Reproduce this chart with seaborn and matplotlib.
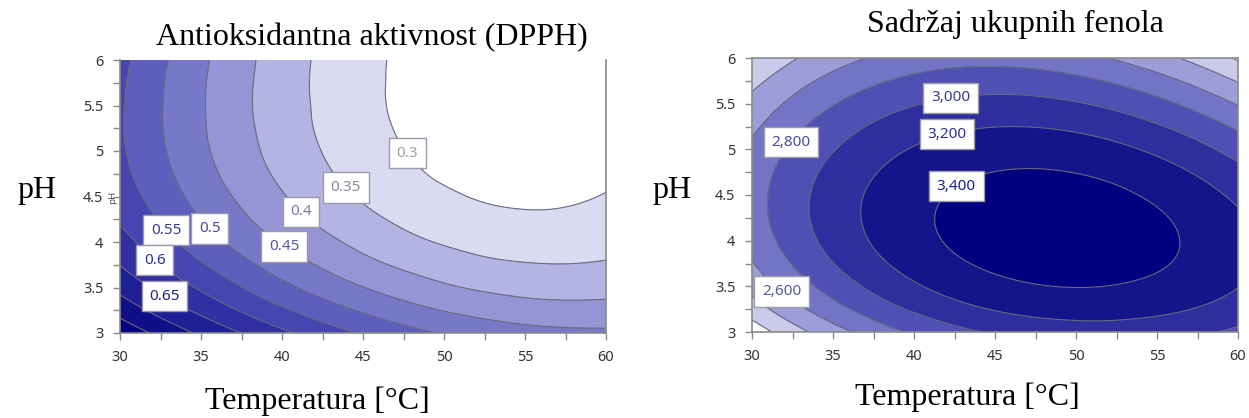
import numpy as np
import matplotlib
matplotlib.use('Agg')
import matplotlib.pyplot as plt
import matplotlib.tri as mtri
from matplotlib.ticker import MultipleLocator
import seaborn as sns

# Osi: temperatura [°C] i pH
temperature = [30, 32.5, 35, 37.5, 40, 42.5, 45, 47.5, 50, 52.5, 55, 57.5, 60]
ph = [3, 3.25, 3.5, 3.75, 4, 4.25, 4.5, 4.75, 5, 5.25, 5.5, 5.75, 6]

# Antioksidantna aktivnost (DPPH) - redovi: pH, kolone: temperatura
dpph = [
    [0.786, 0.737, 0.691, 0.649, 0.610, 0.575, 0.545, 0.518, 0.496, 0.479, 0.467, 0.461, 0.459],
    [0.732, 0.683, 0.638, 0.596, 0.558, 0.524, 0.494, 0.469, 0.448, 0.433, 0.422, 0.417, 0.418],
    [0.686, 0.638, 0.593, 0.551, 0.513, 0.480, 0.451, 0.427, 0.407, 0.393, 0.384, 0.381, 0.383],
    [0.649, 0.600, 0.555, 0.514, 0.477, 0.444, 0.415, 0.392, 0.374, 0.360, 0.353, 0.351, 0.355],
    [0.619, 0.570, 0.524, 0.483, 0.446, 0.414, 0.386, 0.363, 0.346, 0.334, 0.327, 0.327, 0.332],
    [0.595, 0.546, 0.500, 0.459, 0.422, 0.390, 0.363, 0.341, 0.324, 0.313, 0.307, 0.308, 0.315],
    [0.577, 0.528, 0.482, 0.441, 0.404, 0.372, 0.345, 0.323, 0.307, 0.296, 0.292, 0.294, 0.302],
    [0.565, 0.515, 0.469, 0.427, 0.390, 0.358, 0.332, 0.310, 0.294, 0.285, 0.281, 0.283, 0.293],
    [0.558, 0.507, 0.460, 0.418, 0.381, 0.349, 0.322, 0.301, 0.286, 0.276, 0.273, 0.277, 0.287],
    [0.555, 0.503, 0.456, 0.413, 0.376, 0.343, 0.316, 0.295, 0.280, 0.271, 0.269, 0.273, 0.284],
    [0.556, 0.503, 0.455, 0.411, 0.373, 0.341, 0.313, 0.292, 0.277, 0.268, 0.266, 0.271, 0.283],
    [0.559, 0.505, 0.456, 0.412, 0.373, 0.340, 0.313, 0.291, 0.276, 0.268, 0.266, 0.271, 0.283],
    [0.565, 0.510, 0.460, 0.415, 0.375, 0.341, 0.313, 0.292, 0.276, 0.268, 0.266, 0.271, 0.284],
]

# Sadržaj ukupnih fenola - redovi: pH, kolone: temperatura
fenoli = [
    [2081, 2315, 2517, 2688, 2830, 2942, 3025, 3080, 3108, 3109, 3084, 3035, 2961],
    [2299, 2528, 2725, 2891, 3027, 3133, 3211, 3260, 3281, 3276, 3245, 3189, 3108],
    [2467, 2691, 2883, 3044, 3175, 3275, 3347, 3390, 3405, 3393, 3356, 3293, 3205],
    [2590, 2809, 2996, 3151, 3276, 3371, 3436, 3473, 3482, 3464, 3420, 3350, 3255],
    [2670, 2884, 3066, 3216, 3335, 3424, 3483, 3514, 3516, 3492, 3440, 3363, 3261],
    [2712, 2920, 3097, 3241, 3354, 3437, 3491, 3515, 3511, 3480, 3422, 3337, 3228],
    [2718, 2921, 3092, 3231, 3338, 3415, 3462, 3480, 3470, 3432, 3366, 3275, 3158],
    [2692, 2890, 3055, 3188, 3290, 3361, 3402, 3413, 3396, 3351, 3279, 3180, 3056],
    [2638, 2831, 2990, 3118, 3213, 3278, 3312, 3317, 3293, 3241, 3162, 3056, 2924],
    [2559, 2746, 2900, 3022, 3111, 3169, 3197, 3195, 3165, 3106, 3019, 2906, 2766],
    [2459, 2641, 2789, 2904, 2987, 3039, 3061, 3052, 3014, 2948, 2854, 2733, 2586],
    [2341, 2517, 2659, 2768, 2845, 2891, 2905, 2890, 2845, 2772, 2671, 2542, 2387],
    [2209, 2379, 2515, 2618, 2689, 2728, 2736, 2713, 2661, 2581, 2472, 2336, 2173],
]

# Nivoi kontura i boje
dpph_levels = [0.3, 0.35, 0.4, 0.45, 0.5, 0.55, 0.6, 0.65, 0.7, 0.75]
dpph_colors = ['#ffffff', '#dadaf1', '#b4b4e2', '#9595d5', '#7878c8', '#5e5ebd',
               '#4646b0', '#3030a2', '#1e1e95', '#0f0f89', '#040481']
fen_levels = [2200, 2400, 2600, 2800, 3000, 3200, 3400]
fen_colors = ['#ffffff', '#cacaea', '#9d9dd9', '#7474c6', '#5050b4', '#2e2e9f', '#15158b', '#000080']

# Oznake kontura (boja teksta po nivou)
dpph_lab = {0.3: '#a0a0a0', 0.35: '#8a8aa0', 0.4: '#7a7aa8', 0.45: '#5a5a9a',
            0.5: '#4a4a98', 0.55: '#3a3a90', 0.6: '#30308c', 0.65: '#202088'}
fen_lab = {2600: '#5a5a9a', 2800: '#4a4a98', 3000: '#3a3a90', 3200: '#30308c', 3400: '#202088'}

sns.set_theme(style='white')
plt.rcParams['font.family'] = ['Noto Sans', 'DejaVu Sans']

TT, PP = np.meshgrid(temperature, ph)

fig = plt.figure(figsize=(12.49, 4.18), dpi=100)
W, H = 1249, 418
ax1 = fig.add_axes([120 / W, 1 - 333 / H, 486 / W, 273 / H])
ax2 = fig.add_axes([752 / W, 1 - 332 / H, 486 / W, 274 / H])


def draw(ax, Z, levels, colors, lab_pos, fmt, lab_colors):
    Z = np.asarray(Z, dtype=float).ravel()
    tri = mtri.Triangulation(TT.ravel(), PP.ravel())
    interp = mtri.CubicTriInterpolator(tri, Z)
    tri_r, z_r = mtri.UniformTriRefiner(tri).refine_field(Z, triinterpolator=interp, subdiv=3)
    lo, hi = min(z_r.min(), levels[0]) - 1, max(z_r.max(), levels[-1]) + 1
    ax.tricontourf(tri_r, z_r, levels=[lo] + levels + [hi], colors=colors)
    ax.tricontour(tri_r, z_r, levels=levels, colors='#6a6a80', linewidths=0.8)
    lab_lines = ax.tricontour(tri_r, z_r, levels=sorted(lab_colors), colors='none', linewidths=0)
    texts = ax.clabel(lab_lines, manual=lab_pos, fmt=fmt, inline=False, fontsize=11)
    for t in texts:
        v = float(t.get_text().replace(',', ''))
        t.set_rotation(0)
        t.set_color(lab_colors[min(lab_colors, key=lambda k: abs(k - v))])
        t.set_bbox(dict(boxstyle='square,pad=0.5', facecolor='white', edgecolor='#9a9aaa', linewidth=1))
        t.set_zorder(5)
    ax.set_xlim(30, 60)
    ax.set_ylim(3, 6)
    ax.xaxis.set_major_locator(MultipleLocator(5))
    ax.xaxis.set_minor_locator(MultipleLocator(2.5))
    ax.yaxis.set_major_locator(MultipleLocator(0.5))
    ax.yaxis.set_minor_locator(MultipleLocator(0.25))
    ax.yaxis.set_major_formatter(lambda v, p: f'{v:g}')
    ax.tick_params(which='both', direction='out', length=5, width=1, color='#8a8a8a',
                   labelsize=10.5, labelcolor='#333333', pad=7, bottom=True, left=True)
    for s in ax.spines.values():
        s.set_color('#8a8a8a')
        s.set_linewidth(1.2)


draw(ax1, dpph, dpph_levels, dpph_colors,
     [(47.4, 4.93), (43.7, 4.56), (41.0, 4.30), (39.9, 3.89), (35.6, 4.16), (33.1, 4.17), (32.3, 3.83), (32.6, 3.36)],
     lambda v: f'{v:g}', dpph_lab)
ax1.spines['top'].set_visible(False)
draw(ax2, fenoli, fen_levels, fen_colors,
     [(42.3, 5.52), (42.0, 5.19), (42.4, 4.66), (32.3, 5.09), (32.1, 3.50)],
     lambda v: f'{v:,.0f}', fen_lab)

# Naslovi i nazivi osa
serif = dict(family='Liberation Serif', fontsize=23, color='black')
fig.text(372 / W, 1 - 38 / H, 'Antioksidantna aktivnost (DPPH)', ha='center', va='center', **serif)
fig.text(1015 / W, 1 - 24 / H, 'Sadržaj ukupnih fenola', ha='center', va='center', **serif)
fig.text(37 / W, 1 - 190 / H, 'pH', ha='center', va='center', **serif)
fig.text(672 / W, 1 - 190 / H, 'pH', ha='center', va='center', **serif)
fig.text(317 / W, 1 - 401 / H, 'Temperatura [°C]', ha='center', va='center', **serif)
fig.text(967 / W, 1 - 397 / H, 'Temperatura [°C]', ha='center', va='center', **serif)
fig.text(113 / W, 1 - 197 / H, 'pH', ha='center', va='center', rotation=90, fontsize=7, color='#555555')

fig.savefig('out.png', dpi=100)
